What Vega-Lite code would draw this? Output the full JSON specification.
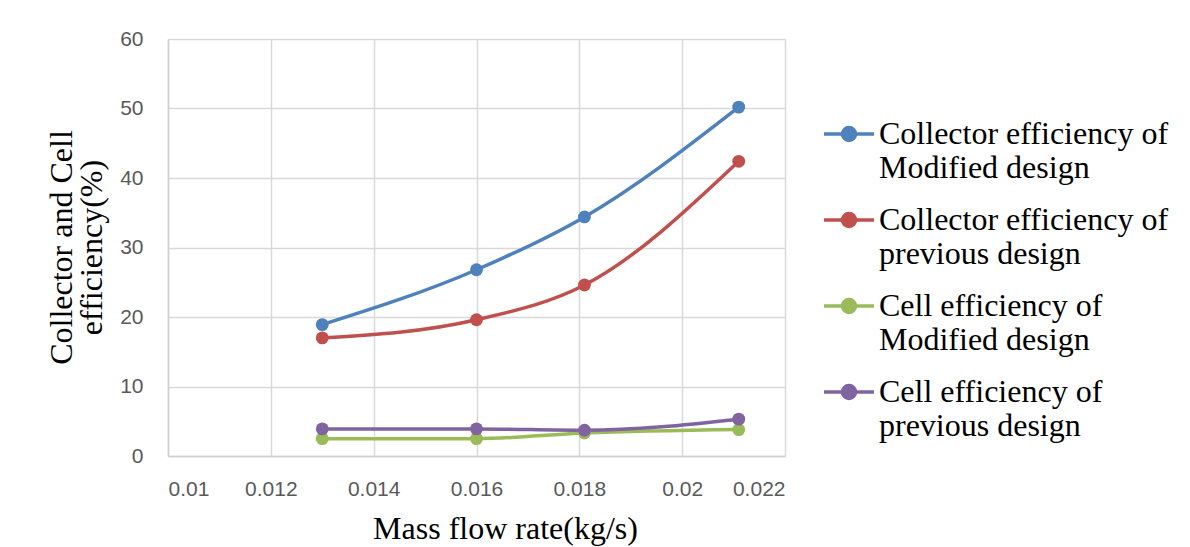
{
  "$schema": "https://vega.github.io/schema/vega-lite/v6.json",
  "width": 617,
  "height": 417,
  "autosize": {"type": "none"},
  "padding": {"left": 168, "top": 39, "right": 405, "bottom": 91},
  "background": "white",
  "config": {"view": {"stroke": null}},
  "data": {
    "values": [
      {"flow": 0.013, "eff": 18.9, "series": "Collector efficiency of|Modified design"},
      {"flow": 0.016, "eff": 26.8, "series": "Collector efficiency of|Modified design"},
      {"flow": 0.0181, "eff": 34.4, "series": "Collector efficiency of|Modified design"},
      {"flow": 0.0211, "eff": 50.2, "series": "Collector efficiency of|Modified design"},
      {"flow": 0.013, "eff": 17.0, "series": "Collector efficiency of|previous design"},
      {"flow": 0.016, "eff": 19.6, "series": "Collector efficiency of|previous design"},
      {"flow": 0.0181, "eff": 24.6, "series": "Collector efficiency of|previous design"},
      {"flow": 0.0211, "eff": 42.4, "series": "Collector efficiency of|previous design"},
      {"flow": 0.013, "eff": 2.5, "series": "Cell efficiency of|Modified design"},
      {"flow": 0.016, "eff": 2.5, "series": "Cell efficiency of|Modified design"},
      {"flow": 0.0181, "eff": 3.3, "series": "Cell efficiency of|Modified design"},
      {"flow": 0.0211, "eff": 3.8, "series": "Cell efficiency of|Modified design"},
      {"flow": 0.013, "eff": 3.9, "series": "Cell efficiency of|previous design"},
      {"flow": 0.016, "eff": 3.9, "series": "Cell efficiency of|previous design"},
      {"flow": 0.0181, "eff": 3.7, "series": "Cell efficiency of|previous design"},
      {"flow": 0.0211, "eff": 5.3, "series": "Cell efficiency of|previous design"}
    ]
  },
  "encoding": {
    "x": {
      "field": "flow", "type": "quantitative",
      "scale": {"domain": [0.01, 0.022], "nice": false, "zero": false},
      "axis": {
        "values": [0.01, 0.012, 0.014, 0.016, 0.018, 0.02, 0.022],
        "format": ".3~f",
        "title": "Mass flow rate(kg/s)",
        "titleFont": "Liberation Serif", "titleFontSize": 32, "titleFontWeight": "normal", "titleColor": "#000000",
        "titleX": 337, "titleY": 82, "titleBaseline": "alphabetic", "titleAlign": "center", "titleAnchor": null,
        "labelFont": "Liberation Sans", "labelFontSize": 21, "labelColor": "#595959", "labelPadding": 22,
        "ticks": false, "tickSize": 0,
        "grid": true, "gridColor": "#d9d9d9", "gridWidth": 1.5,
        "domainColor": "#d0d0d0", "domainWidth": 1.5
      }
    },
    "y": {
      "field": "eff", "type": "quantitative",
      "scale": {"domain": [0, 60], "nice": false},
      "axis": {
        "values": [0, 10, 20, 30, 40, 50, 60],
        "title": ["Collector and Cell", "efficiency(%)"],
        "titleFont": "Liberation Serif", "titleFontSize": 32, "titleFontWeight": "normal", "titleColor": "#000000",
        "titleLineHeight": 30,
        "titleX": -97, "titleY": 208, "titleBaseline": "alphabetic", "titleAlign": "center", "titleAngle": -90,
        "labelFont": "Liberation Sans", "labelFontSize": 21, "labelColor": "#595959", "labelPadding": 25,
        "ticks": false, "tickSize": 0,
        "grid": true, "gridColor": "#d9d9d9", "gridWidth": 1.5,
        "domainColor": "#d0d0d0", "domainWidth": 1.5
      }
    },
    "color": {
      "field": "series", "type": "nominal",
      "scale": {
        "domain": ["Collector efficiency of|Modified design", "Collector efficiency of|previous design", "Cell efficiency of|Modified design", "Cell efficiency of|previous design"],
        "range": ["#4F81BD", "#C0504D", "#9BBB59", "#8064A2"]
      }
    }
  },
  "layer": [
    {
      "mark": {"type": "line", "interpolate": "monotone", "strokeWidth": 3.5},
      "encoding": {
        "color": {
          "field": "series", "type": "nominal",
          "legend": {
            "orient": "none", "legendX": 654, "legendY": 68,
            "title": null,
            "symbolType": "M-1,0H1M-0.26,0A0.26,0.26,0,1,0,0.26,0A0.26,0.26,0,1,0,-0.26,0",
            "symbolSize": 2500, "symbolStrokeWidth": 3.5,
            "labelExpr": "split(datum.label, '|')",
            "labelFont": "Liberation Serif", "labelFontSize": 32, "labelColor": "#000000",
            "labelLineHeight": 37, "labelOffset": 3, "labelLimit": 400,
            "rowPadding": 9,
            "encode": {
              "symbols": {
                "update": {
                  "fill": {"scale": "color", "field": "value"},
                  "stroke": {"scale": "color", "field": "value"}
                }
              }
            }
          }
        }
      }
    },
    {
      "mark": {"type": "point", "filled": true, "size": 165, "opacity": 1},
      "encoding": {
        "color": {"field": "series", "type": "nominal", "legend": null}
      }
    }
  ]
}
